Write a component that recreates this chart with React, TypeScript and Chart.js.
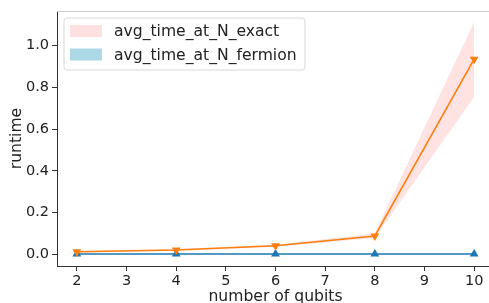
import React, { useEffect, useRef } from "react";
import { Chart, registerables } from "chart.js";

Chart.register(...registerables);

const qubits = [2, 4, 6, 8, 10];
const exactMean = [0.012, 0.021, 0.041, 0.088, 0.935];
const exactLower = [0.008, 0.017, 0.036, 0.078, 0.755];
const exactUpper = [0.016, 0.025, 0.046, 0.1, 1.114];
const fermionMean = [0.0015, 0.0015, 0.0015, 0.0015, 0.0015];
const fermionLower = [0.0008, 0.0008, 0.0008, 0.0008, 0.0008];
const fermionUpper = [0.0022, 0.0022, 0.0022, 0.0022, 0.0022];
const xTicks = [2, 3, 4, 5, 6, 7, 8, 9, 10];
const yTicks = [0, 0.2, 0.4, 0.6, 0.8, 1.0];
const legendLabels = ["avg_time_at_N_exact", "avg_time_at_N_fermion"];
const legendColors = ["#ffe0e0", "#add8e6"];

const pts = (ys: number[]) => qubits.map((x, i) => ({ x, y: ys[i] }));

const legendPlugin = {
  id: "mplLegend",
  afterDraw(chart: any) {
    const ctx = chart.ctx;
    const a = chart.chartArea;
    ctx.save();
    ctx.strokeStyle = "#cccccc";
    ctx.lineWidth = 1;
    ctx.beginPath();
    ctx.moveTo(a.left, a.top + 0.5);
    ctx.lineTo(a.right, a.top + 0.5);
    ctx.stroke();
    const x0 = a.left + 7;
    const y0 = a.top + 7;
    const w = 241;
    const h = 52;
    const r = 3;
    ctx.fillStyle = "rgba(255,255,255,0.8)";
    ctx.strokeStyle = "#d8d8d8";
    ctx.beginPath();
    ctx.moveTo(x0 + r, y0);
    ctx.lineTo(x0 + w - r, y0);
    ctx.arcTo(x0 + w, y0, x0 + w, y0 + r, r);
    ctx.lineTo(x0 + w, y0 + h - r);
    ctx.arcTo(x0 + w, y0 + h, x0 + w - r, y0 + h, r);
    ctx.lineTo(x0 + r, y0 + h);
    ctx.arcTo(x0, y0 + h, x0, y0 + h - r, r);
    ctx.lineTo(x0, y0 + r);
    ctx.arcTo(x0, y0, x0 + r, y0, r);
    ctx.closePath();
    ctx.fill();
    ctx.stroke();
    ctx.font = "15.6px 'DejaVu Sans'";
    ctx.textBaseline = "middle";
    legendLabels.forEach((lbl, i) => {
      const cy = y0 + 13 + i * 23.5;
      ctx.fillStyle = legendColors[i];
      ctx.fillRect(x0 + 6, cy - 6, 32, 12);
      ctx.fillStyle = "#222";
      ctx.fillText(lbl, x0 + 50, cy + 1);
    });
    ctx.restore();
  },
};

export default function App() {
  const ref = useRef<HTMLCanvasElement>(null);
  useEffect(() => {
    document.body.style.margin = "0";
    const tickFont = { family: "'DejaVu Sans'", size: 14.5 };
    const titleFont = { family: "'DejaVu Sans'", size: 15.6 };
    const chart = new Chart(ref.current!, {
      type: "line",
      data: {
        datasets: [
          {
            data: pts(exactUpper),
            borderWidth: 0,
            pointRadius: 0,
            backgroundColor: "rgba(255,200,200,0.5)",
            fill: "+1",
            order: 2,
          },
          {
            data: pts(exactLower),
            borderWidth: 0,
            pointRadius: 0,
            fill: false,
            order: 2,
          },
          {
            data: pts(fermionUpper),
            borderWidth: 0,
            pointRadius: 0,
            backgroundColor: "rgba(173,216,230,0.6)",
            fill: "+1",
            order: 2,
          },
          {
            data: pts(fermionLower),
            borderWidth: 0,
            pointRadius: 0,
            fill: false,
            order: 2,
          },
          {
            data: pts(fermionMean),
            borderColor: "#1f77b4",
            backgroundColor: "#1f77b4",
            borderWidth: 1.6,
            pointStyle: "triangle",
            pointRadius: 3.5,
            fill: false,
            order: 1,
          },
          {
            data: pts(exactMean),
            borderColor: "#ff7f0e",
            backgroundColor: "#ff7f0e",
            borderWidth: 1.6,
            pointStyle: "triangle",
            pointRotation: 180,
            pointRadius: 3.5,
            fill: false,
            order: 0,
          },
        ],
      },
      options: {
        animation: false,
        responsive: true,
        maintainAspectRatio: false,
        layout: { autoPadding: false, padding: { top: 11, right: 0, left: 0, bottom: 0 } },
        plugins: { legend: { display: false }, tooltip: { enabled: false } },
        scales: {
          x: {
            type: "linear",
            min: 1.6,
            max: 10.4,
            afterBuildTicks: (s: any) => {
              s.ticks = xTicks.map((v) => ({ value: v }));
            },
            afterFit: (s: any) => {
              s.height = 37;
              s.paddingLeft = 0;
              s.paddingRight = 0;
            },
            grid: { drawOnChartArea: false, drawTicks: true, tickLength: 5, color: "#333" },
            border: { display: true, color: "#333", width: 1 },
            ticks: { font: tickFont, color: "#222", padding: 2, maxRotation: 0, autoSkip: false },
            title: { display: true, text: "number of qubits", font: titleFont, color: "#222", padding: { top: 1, bottom: -3 } },
          },
          y: {
            type: "linear",
            min: -0.056,
            max: 1.166,
            afterBuildTicks: (s: any) => {
              s.ticks = yTicks.map((v) => ({ value: v }));
            },
            afterFit: (s: any) => {
              s.width = 57;
              s.paddingTop = 0;
              s.paddingBottom = 0;
            },
            grid: { drawOnChartArea: false, drawTicks: true, tickLength: 5, color: "#333" },
            border: { display: true, color: "#333", width: 1 },
            ticks: {
              font: tickFont,
              color: "#222",
              padding: 3,
              callback: (v: any) => Number(v).toFixed(1),
            },
            title: { display: true, text: "runtime", font: titleFont, color: "#222", padding: { top: 8, bottom: 0 } },
          },
        },
      },
      plugins: [legendPlugin],
    });
    return () => chart.destroy();
  }, []);
  return (
    <div style={{ width: 489, height: 303, overflow: "hidden", position: "relative" }}>
      <div style={{ width: 494, height: 303, position: "relative" }}>
        <canvas ref={ref} />
      </div>
    </div>
  );
}
